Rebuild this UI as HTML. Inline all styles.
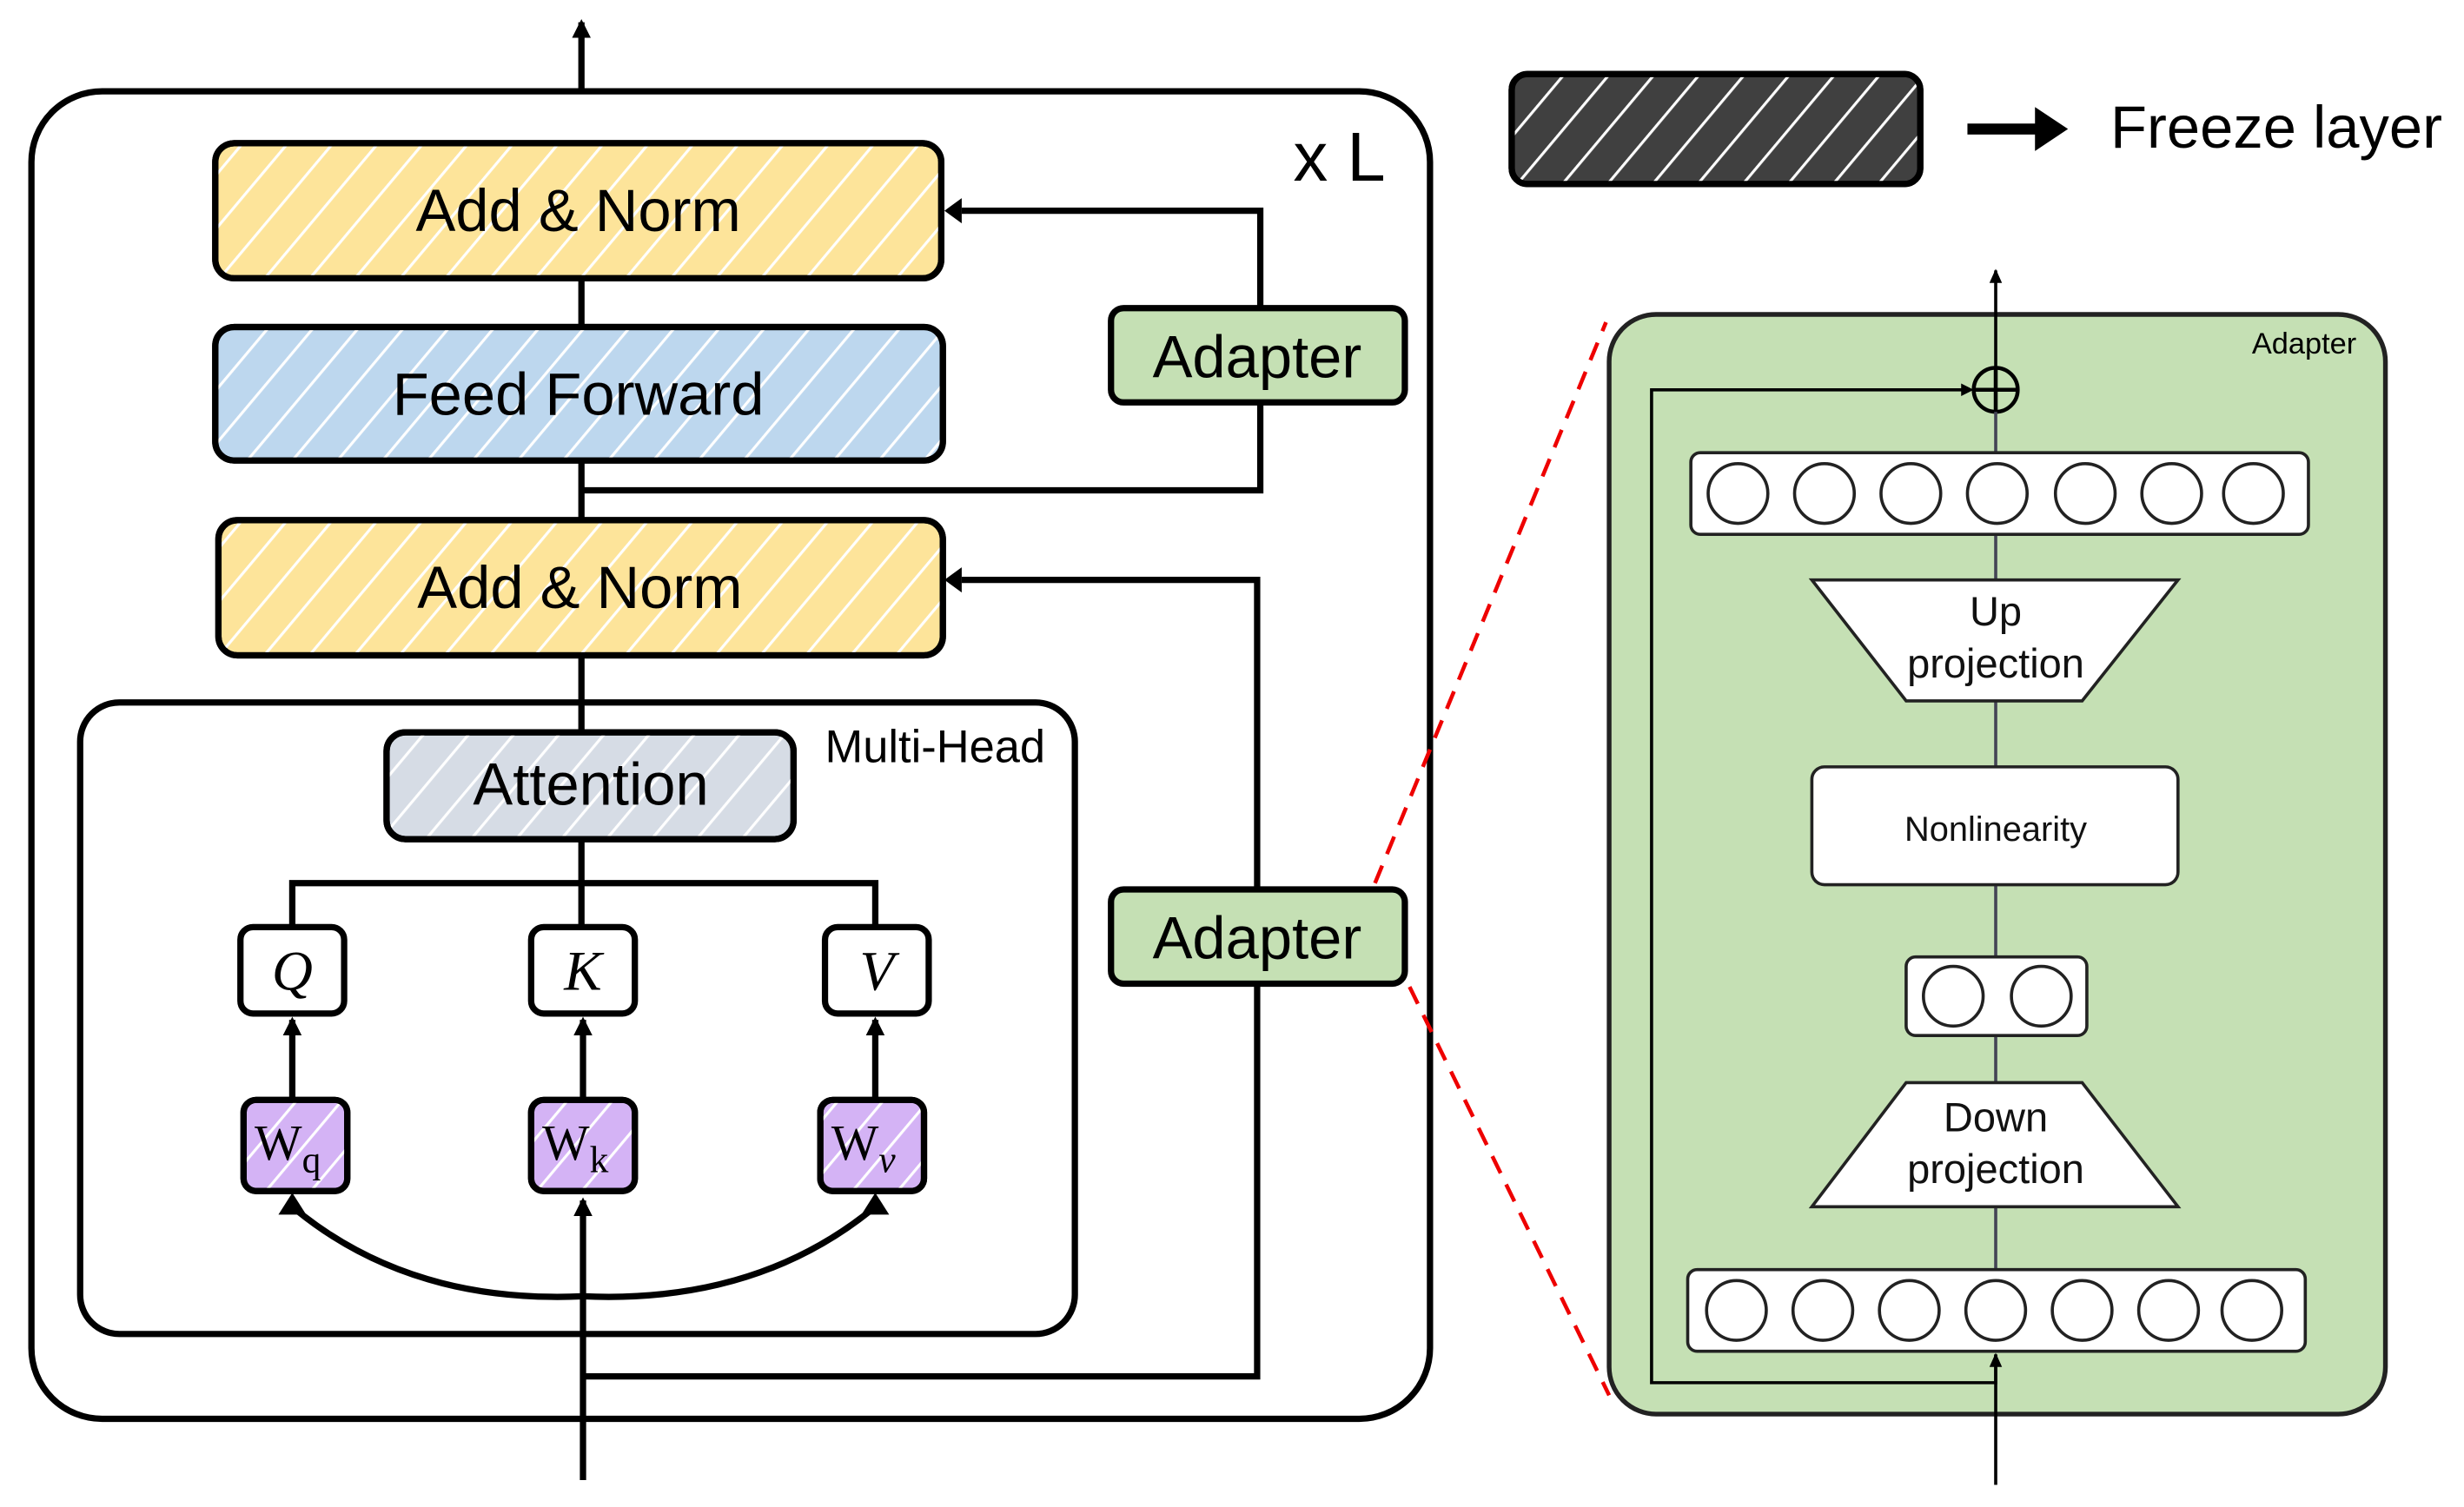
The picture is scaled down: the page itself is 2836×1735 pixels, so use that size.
<!DOCTYPE html>
<html><head><meta charset="utf-8"><style>html,body{margin:0;padding:0;background:#fff}svg{display:block}</style></head>
<body>
<svg width="2836" height="1735" viewBox="0 0 1568 959" xmlns="http://www.w3.org/2000/svg" font-family="Liberation Sans, sans-serif">
<defs>
<pattern id="h" width="22" height="22" patternUnits="userSpaceOnUse" patternTransform="rotate(40)">
<line x1="0" y1="0" x2="0" y2="22" stroke="#fff" stroke-width="3.5"/>
</pattern>
<marker id="a" markerWidth="14" markerHeight="14" refX="10" refY="7" orient="auto" markerUnits="userSpaceOnUse"><path d="M0,1 L12,7 L0,13 z" fill="#000"/></marker>
<marker id="t" markerWidth="10" markerHeight="10" refX="8" refY="5" orient="auto" markerUnits="userSpaceOnUse"><path d="M0,1 L9,5 L0,9 z" fill="#000"/></marker>
</defs>

<line x1="370" y1="58" x2="370" y2="14" stroke="#000" stroke-width="4" marker-end="url(#a)"/>
<rect x="20" y="58" width="890" height="845" rx="45" fill="none" stroke="#000" stroke-width="4"/>
<text x="823" y="115" font-size="44">x L</text>

<line x1="370" y1="177" x2="370" y2="208" stroke="#000" stroke-width="4"/>
<line x1="370" y1="293" x2="370" y2="331" stroke="#000" stroke-width="4"/>
<line x1="370" y1="417" x2="370" y2="466" stroke="#000" stroke-width="4"/>

<g stroke="#000" stroke-width="4">
<rect x="137" y="91" width="462" height="86" rx="12" fill="#fde49a"/>
<rect x="137" y="91" width="462" height="86" rx="12" fill="url(#h)"/>
<rect x="137" y="208" width="463" height="85" rx="12" fill="#bdd7ee"/>
<rect x="137" y="208" width="463" height="85" rx="12" fill="url(#h)"/>
<rect x="139" y="331" width="461" height="86" rx="12" fill="#fde49a"/>
<rect x="139" y="331" width="461" height="86" rx="12" fill="url(#h)"/>
</g>
<text x="368" y="147" font-size="38" text-anchor="middle">Add &amp; Norm</text>
<text x="368" y="264" font-size="38" text-anchor="middle">Feed Forward</text>
<text x="369" y="387" font-size="38" text-anchor="middle">Add &amp; Norm</text>

<rect x="51" y="447" width="633" height="402" rx="25" fill="none" stroke="#000" stroke-width="4"/>
<text x="525" y="485" font-size="29">Multi-Head</text>
<rect x="246" y="466" width="259" height="68" rx="12" fill="#d6dce5" stroke="#000" stroke-width="4"/>
<rect x="246" y="466" width="259" height="68" rx="12" fill="url(#h)" stroke="#000" stroke-width="4"/>
<text x="376" y="512" font-size="38" text-anchor="middle">Attention</text>

<path d="M370,534 V562 M186,590 V562 H557 V590 M370,562 V590" fill="none" stroke="#000" stroke-width="4"/>
<g stroke="#000" stroke-width="4" fill="#fff">
<rect x="153" y="590" width="66" height="55" rx="8"/>
<rect x="338" y="590" width="66" height="55" rx="8"/>
<rect x="525" y="590" width="66" height="55" rx="8"/>
</g>
<g font-family="Liberation Serif, serif" font-style="italic" font-size="36" text-anchor="middle">
<text x="186" y="630">Q</text><text x="371" y="630">K</text><text x="558" y="630">V</text>
</g>
<g stroke="#000" stroke-width="4">
<line x1="186" y1="700" x2="186" y2="649" marker-end="url(#a)"/>
<line x1="371" y1="700" x2="371" y2="649" marker-end="url(#a)"/>
<line x1="557" y1="700" x2="557" y2="649" marker-end="url(#a)"/>
</g>
<g stroke="#000" stroke-width="4">
<rect x="155" y="700" width="66" height="58" rx="8" fill="#d4b3f5"/>
<rect x="155" y="700" width="66" height="58" rx="8" fill="url(#h)"/>
<rect x="338" y="700" width="66" height="58" rx="8" fill="#d4b3f5"/>
<rect x="338" y="700" width="66" height="58" rx="8" fill="url(#h)"/>
<rect x="522" y="700" width="66" height="58" rx="8" fill="#d4b3f5"/>
<rect x="522" y="700" width="66" height="58" rx="8" fill="url(#h)"/>
</g>
<g font-family="Liberation Serif, serif" font-size="32">
<text x="162" y="738">W<tspan font-size="24" dy="8">q</tspan></text>
<text x="345" y="738">W<tspan font-size="24" dy="8">k</tspan></text>
<text x="529" y="738">W<tspan font-size="24" dy="8" font-style="italic">v</tspan></text>
</g>
<path d="M186,768 Q260,830 371,825 Q482,830 557,768" fill="none" stroke="#000" stroke-width="4"/>
<path d="M179,772 L186,761 L193,772 z M550,772 L557,761 L564,772 z" fill="#000" stroke="#000" stroke-width="2"/>
<line x1="371" y1="942" x2="371" y2="764" stroke="#000" stroke-width="4" marker-end="url(#a)"/>

<path d="M371,876 H800 V626 M800,566 V369 H612" fill="none" stroke="#000" stroke-width="4"/>
<path d="M612,361 L601,369 L612,377 z" fill="#000"/>
<path d="M371,312 H802 V256 M802,196 V134 H612" fill="none" stroke="#000" stroke-width="4"/>
<path d="M612,126 L601,134 L612,142 z" fill="#000"/>
<rect x="707" y="196" width="187" height="60" rx="8" fill="#c5e0b4" stroke="#000" stroke-width="4"/>
<text x="800" y="240" font-size="38" text-anchor="middle">Adapter</text>
<rect x="707" y="566" width="187" height="60" rx="8" fill="#c5e0b4" stroke="#000" stroke-width="4"/>
<text x="800" y="610" font-size="38" text-anchor="middle">Adapter</text>

<rect x="962" y="47" width="260" height="70" rx="10" fill="#404040" stroke="#000" stroke-width="4"/>
<rect x="962" y="47" width="260" height="70" rx="10" fill="url(#h)" stroke="#000" stroke-width="4"/>
<line x1="1252" y1="82" x2="1300" y2="82" stroke="#000" stroke-width="7"/>
<path d="M1295,68 L1316,82 L1295,96 z" fill="#000"/>
<text x="1343" y="94" font-size="38">Freeze layer</text>

<line x1="875" y1="562" x2="1022" y2="205" stroke="#e00" stroke-width="2.5" stroke-dasharray="12,8"/>
<line x1="897" y1="628" x2="1024" y2="888" stroke="#e00" stroke-width="2.5" stroke-dasharray="12,8"/>

<rect x="1024" y="200" width="494" height="700" rx="30" fill="#c5e0b4" stroke="#222" stroke-width="3"/>
<text x="1433" y="225" font-size="19">Adapter</text>
<line x1="1270" y1="234" x2="1270" y2="172" stroke="#000" stroke-width="2" marker-end="url(#t)"/>
<path d="M1270,862 V880 H1051 V248 H1250" fill="none" stroke="#000" stroke-width="2"/>
<path d="M1248,244 L1256,248 L1248,252 z" fill="#000"/>
<line x1="1270" y1="945" x2="1270" y2="862" stroke="#000" stroke-width="2" marker-end="url(#t)"/>
<circle cx="1270" cy="248" r="14" fill="none" stroke="#000" stroke-width="2.5"/>
<path d="M1256,248 H1284 M1270,234 V262" stroke="#000" stroke-width="2.5"/>
<line x1="1270" y1="262" x2="1270" y2="808" stroke="#445" stroke-width="2"/>

<g stroke="#222" stroke-width="2">
<rect x="1076" y="288" width="393" height="52" rx="6" fill="#fff"/>
<g fill="#fff">
<circle cx="1106" cy="314" r="19"/><circle cx="1161" cy="314" r="19"/><circle cx="1216" cy="314" r="19"/><circle cx="1271" cy="314" r="19"/><circle cx="1327" cy="314" r="19"/><circle cx="1382" cy="314" r="19"/><circle cx="1434" cy="314" r="19"/>
</g>
<polygon points="1153,369 1386,369 1325,446 1213,446" fill="#fff"/>
<rect x="1153" y="488" width="233" height="75" rx="8" fill="#fff"/>
<rect x="1213" y="609" width="115" height="50" rx="6" fill="#fff"/>
<circle cx="1243" cy="634" r="19" fill="#fff"/><circle cx="1299" cy="634" r="19" fill="#fff"/>
<polygon points="1213,689 1325,689 1386,768 1153,768" fill="#fff"/>
<rect x="1074" y="808" width="393" height="52" rx="6" fill="#fff"/>
<g fill="#fff">
<circle cx="1105" cy="834" r="19"/><circle cx="1160" cy="834" r="19"/><circle cx="1215" cy="834" r="19"/><circle cx="1270" cy="834" r="19"/><circle cx="1325" cy="834" r="19"/><circle cx="1380" cy="834" r="19"/><circle cx="1433" cy="834" r="19"/>
</g>
</g>
<g font-size="26" text-anchor="middle" fill="#111">
<text x="1270" y="398">Up</text><text x="1270" y="431">projection</text>
<text x="1270" y="535" font-size="22">Nonlinearity</text>
<text x="1270" y="720">Down</text><text x="1270" y="753">projection</text>
</g>
</svg>
</body></html>
